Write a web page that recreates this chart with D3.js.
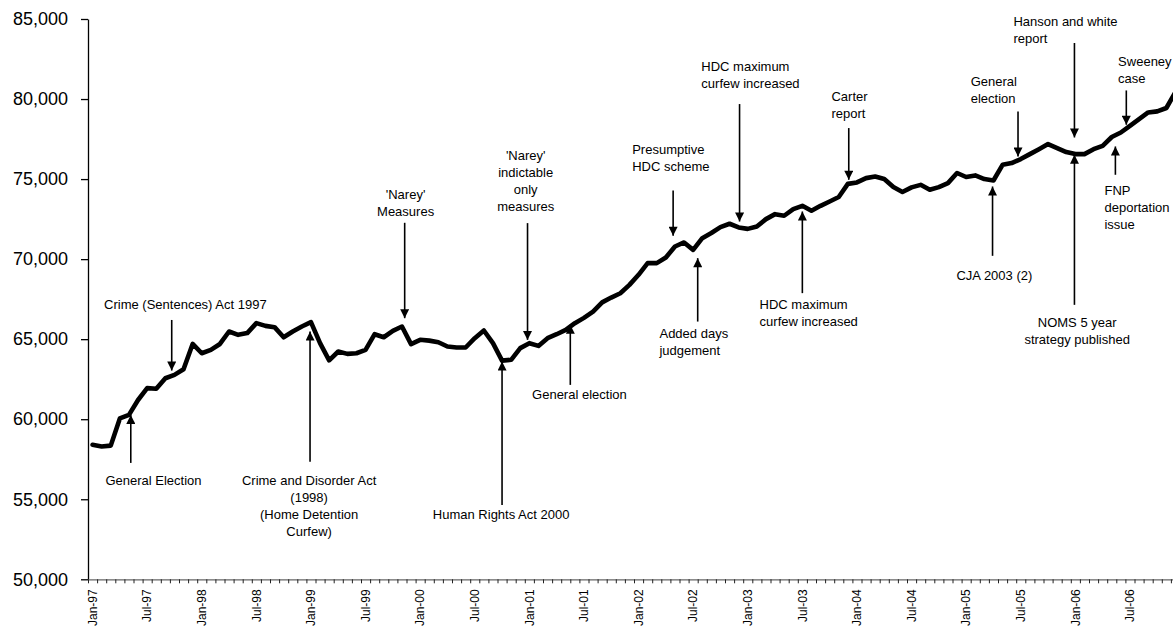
<!DOCTYPE html>
<html><head><meta charset="utf-8">
<script src="https://cdn.jsdelivr.net/npm/d3@7"></script>
<style>
html,body{margin:0;padding:0;background:#fff;}
svg{display:block;font-family:Arial,"Liberation Sans",sans-serif;}
</style></head>
<body>
<svg id="chart" width="1173" height="629"></svg>
<script>
// ---- data ----
const categories = [
 "Jan-97","Feb-97","Mar-97","Apr-97","May-97","Jun-97","Jul-97","Aug-97","Sep-97","Oct-97","Nov-97","Dec-97",
 "Jan-98","Feb-98","Mar-98","Apr-98","May-98","Jun-98","Jul-98","Aug-98","Sep-98","Oct-98","Nov-98","Dec-98",
 "Jan-99","Feb-99","Mar-99","Apr-99","May-99","Jun-99","Jul-99","Aug-99","Sep-99","Oct-99","Nov-99","Dec-99",
 "Jan-00","Feb-00","Mar-00","Apr-00","May-00","Jun-00","Jul-00","Aug-00","Sep-00","Oct-00","Nov-00","Dec-00",
 "Jan-01","Feb-01","Mar-01","Apr-01","May-01","Jun-01","Jul-01","Aug-01","Sep-01","Oct-01","Nov-01","Dec-01",
 "Jan-02","Feb-02","Mar-02","Apr-02","May-02","Jun-02","Jul-02","Aug-02","Sep-02","Oct-02","Nov-02","Dec-02",
 "Jan-03","Feb-03","Mar-03","Apr-03","May-03","Jun-03","Jul-03","Aug-03","Sep-03","Oct-03","Nov-03","Dec-03",
 "Jan-04","Feb-04","Mar-04","Apr-04","May-04","Jun-04","Jul-04","Aug-04","Sep-04","Oct-04","Nov-04","Dec-04",
 "Jan-05","Feb-05","Mar-05","Apr-05","May-05","Jun-05","Jul-05","Aug-05","Sep-05","Oct-05","Nov-05","Dec-05",
 "Jan-06","Feb-06","Mar-06","Apr-06","May-06","Jun-06","Jul-06","Aug-06","Sep-06","Oct-06","Nov-06","Dec-06"
];
const population = [
 58400,58300,58350,60050,60270,61200,61940,61900,62560,62770,63120,64700,
 64120,64330,64700,65480,65270,65380,66000,65830,65750,65120,65480,65790,
 66060,64750,63680,64230,64080,64120,64330,65310,65120,65520,65790,64690,
 64960,64910,64810,64540,64480,64480,65060,65540,64750,63660,63710,64440,
 64750,64580,65060,65310,65580,66000,66330,66720,67300,67600,67870,68390,
 69020,69750,69750,70100,70790,71040,70580,71310,71630,72000,72210,71980,
 71890,72040,72500,72810,72710,73120,73330,73020,73330,73600,73880,74700,
 74790,75060,75160,75000,74500,74190,74480,74640,74330,74500,74750,75380,
 75130,75230,75000,74910,75890,76000,76250,76560,76870,77190,76940,76690,
 76560,76560,76870,77080,77630,77910,78330,78750,79160,79230,79440,80430
];
const xTickLabels = ["Jan-97","Jul-97","Jan-98","Jul-98","Jan-99","Jul-99","Jan-00","Jul-00","Jan-01","Jul-01",
 "Jan-02","Jul-02","Jan-03","Jul-03","Jan-04","Jul-04","Jan-05","Jul-05","Jan-06","Jul-06"];
const yTickValues = [50000,55000,60000,65000,70000,75000,80000,85000];

// annotations: text lines, text month position, first line value, alignment, arrow month, arrow from value, arrow to value
const annotationLabels = [
 ["Crime (Sentences) Act 1997"],
 ["General Election"],
 ["Crime and Disorder Act","(1998)","(Home Detention","Curfew)"],
 ["'Narey'","Measures"],
 ["'Narey'","indictable","only","measures"],
 ["Human Rights Act 2000"],
 ["General election"],
 ["Presumptive","HDC scheme"],
 ["Added days","judgement"],
 ["HDC maximum","curfew increased"],
 ["HDC maximum","curfew increased"],
 ["Carter","report"],
 ["CJA 2003 (2)"],
 ["General","election"],
 ["Hanson and white","report"],
 ["NOMS 5 year","strategy published"],
 ["Sweeney","case"],
 ["FNP","deportation","issue"]
];
const annotationTextMonth = [10.2,6.7,23.8,34.4,47.6,44.9,53.5,59.3,62.3,66.9,73.3,81.2,99.1,96.5,101.2,108.2,112.7,111.2];
const annotationTextValue = [67200,56206,56206,74020,76456,54062,61562,76830,65375,82037,67144,80162,68956,81100,84850,66037,82350,74269];
const annotationAlign = ["middle","middle","middle","middle","middle","middle","middle","start","start","start","start","start","middle","start","start","middle","start","start"];
const arrowMonth = [8.7,4.2,23.9,34.3,47.8,45.0,52.5,63.8,66.5,71.1,78.0,83.1,98.9,101.7,107.9,107.9,113.6,112.4];
const arrowFrom = [66200,57270,57350,72270,72250,54644,62144,74290,66100,79687,67875,78187,70206,79225,83500,67144,80537,75269];
const arrowTo = [63040,60270,65475,66310,64956,63600,65894,71456,70062,72350,72975,74956,74537,76412,77600,76519,78394,77037];

// ---- layout ----
const svg = d3.select("#chart");
const plotLeft = 88, plotTop = 19, plotBottom = 579.3, monthStep = 9.1;
const plotRight = plotLeft + categories.length * monthStep;

const xBand = d3.scaleBand().domain(categories).range([plotLeft, plotRight]).paddingInner(0).paddingOuter(0);
const xLin = d3.scaleLinear().domain([-0.5, categories.length - 0.5]).range([plotLeft, plotRight]);
const y = d3.scaleLinear().domain([50000, 85000]).range([plotBottom, plotTop]);

// y axis
const yAxis = svg.append("g").attr("transform", `translate(${plotLeft},0)`)
  .call(d3.axisLeft(y).tickValues(yTickValues).tickFormat(d3.format(",")).tickSize(7).tickPadding(13).tickSizeOuter(0));
yAxis.select(".domain").attr("stroke", "#000").attr("stroke-width", 1.3);
yAxis.selectAll(".tick line").attr("stroke", "#000").attr("stroke-width", 1.3);
yAxis.selectAll("text").attr("font-size", 18).attr("fill", "#000").attr("font-family", "Arial,'Liberation Sans',sans-serif");

// x axis ticks (monthly boundaries)
const xTicks = svg.append("g").attr("transform", `translate(0,${plotBottom})`)
  .call(d3.axisBottom(xLin).tickValues(d3.range(-0.5, categories.length, 1)).tickFormat("").tickSize(4).tickSizeOuter(0));
xTicks.select(".domain").attr("stroke", "#666").attr("stroke-width", 1.3);
xTicks.selectAll(".tick line").attr("stroke", "#222").attr("stroke-width", 1);

// x axis labels
const xLabels = svg.append("g").attr("transform", `translate(0,${plotBottom})`)
  .call(d3.axisBottom(xBand).tickValues(xTickLabels).tickSize(0));
xLabels.select(".domain").remove();
xLabels.selectAll("text")
  .attr("transform", "rotate(-90)")
  .attr("text-anchor", "end")
  .attr("x", -10).attr("y", 0).attr("dy", "0.35em")
  .attr("font-size", 12).attr("fill", "#000")
  .attr("font-family", "Arial,'Liberation Sans',sans-serif");

// line
const line = d3.line()
  .x((d, i) => xBand(categories[i]) + xBand.bandwidth() / 2)
  .y(d => y(d));
svg.append("path").datum(population)
  .attr("d", line)
  .attr("fill", "none").attr("stroke", "#000").attr("stroke-width", 4.6)
  .attr("stroke-linejoin", "round").attr("stroke-linecap", "round");

// arrows
const defs = svg.append("defs");
defs.append("marker").attr("id", "ah")
  .attr("viewBox", "0 0 10 10").attr("refX", 10).attr("refY", 5)
  .attr("markerWidth", 10).attr("markerHeight", 9).attr("markerUnits", "userSpaceOnUse")
  .attr("orient", "auto")
  .append("path").attr("d", "M0,0 L10,5 L0,10 Z").attr("fill", "#000");

const ann = svg.append("g");
annotationLabels.forEach((lines, k) => {
  const ax = xLin(arrowMonth[k]);
  ann.append("line")
    .attr("x1", ax).attr("x2", ax)
    .attr("y1", y(arrowFrom[k])).attr("y2", y(arrowTo[k]))
    .attr("stroke", "#000").attr("stroke-width", 1.6)
    .attr("marker-end", "url(#ah)");
  const t = ann.append("text")
    .attr("x", xLin(annotationTextMonth[k]))
    .attr("y", y(annotationTextValue[k]))
    .attr("text-anchor", annotationAlign[k])
    .attr("font-size", 13).attr("fill", "#000");
  lines.forEach((s, j) => {
    t.append("tspan").attr("x", xLin(annotationTextMonth[k]))
      .attr("y", y(annotationTextValue[k]) + j * 17)
      .attr("dy", "0.35em").text(s);
  });
});
</script>
</body></html>
